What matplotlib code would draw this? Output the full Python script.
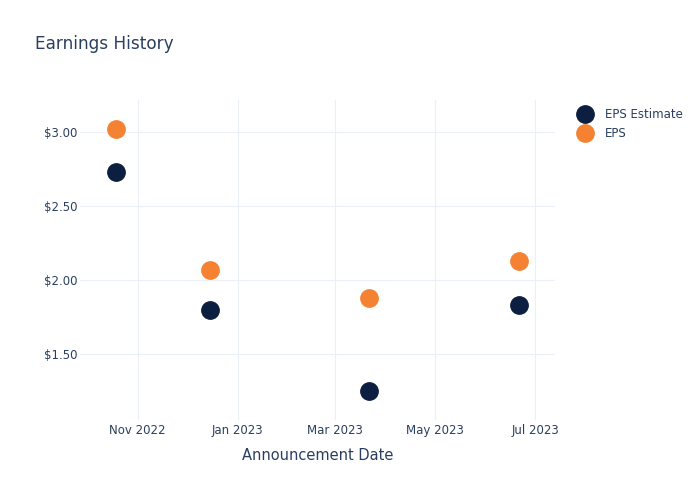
import matplotlib
matplotlib.use('Agg')
import matplotlib.pyplot as plt
import matplotlib.dates as mdates
from matplotlib.ticker import FuncFormatter
import pandas as pd

fechas = pd.to_datetime(['2022-10-19', '2022-12-15', '2023-03-22', '2023-06-21'])
eps_estimate = [2.73, 1.80, 1.25, 1.83]
eps = [3.02, 2.07, 1.88, 2.13]

texto = '#2a3f5f'
grid = '#ebf0f8'

fig = plt.figure(figsize=(7, 5), dpi=100)
ax = fig.add_axes([80/700, 0.16, 475/700, 0.64])

ax.plot(fechas, eps_estimate, 'o', ms=12.5, color='#0c1f40', label='EPS Estimate', zorder=3)
ax.plot(fechas, eps, 'o', ms=12.5, color='#f58233', label='EPS', zorder=3)

ax.set_xlim(pd.Timestamp('2022-09-27'), pd.Timestamp('2023-07-13'))
ax.set_ylim(1.057, 3.214)
ax.set_yticks([1.5, 2.0, 2.5, 3.0])
ax.yaxis.set_major_formatter(FuncFormatter(lambda v, p: '${:.2f}'.format(v)))
ax.xaxis.set_major_locator(mdates.MonthLocator(bymonth=[1, 3, 5, 7, 11]))
ax.xaxis.set_major_formatter(mdates.DateFormatter('%b %Y'))

ax.grid(True, color=grid, lw=0.8)
ax.set_axisbelow(True)
for s in ax.spines.values():
    s.set_visible(False)
ax.tick_params(length=0, colors=texto, labelsize=8.5)
ax.tick_params(axis='x', pad=3)
ax.tick_params(axis='y', pad=2)

ax.set_xlabel('Announcement Date', color=texto, fontsize=10.5, labelpad=8)
fig.text(35/700, 1 - 44/500, 'Earnings History', color=texto, fontsize=12.2, va='center')

ax.legend(loc='upper left', bbox_to_anchor=(1.02, 1.0), frameon=False, fontsize=8.5,
          labelcolor=texto, handletextpad=0.75, borderaxespad=0.3, labelspacing=0.5)

plt.savefig('out.png')
